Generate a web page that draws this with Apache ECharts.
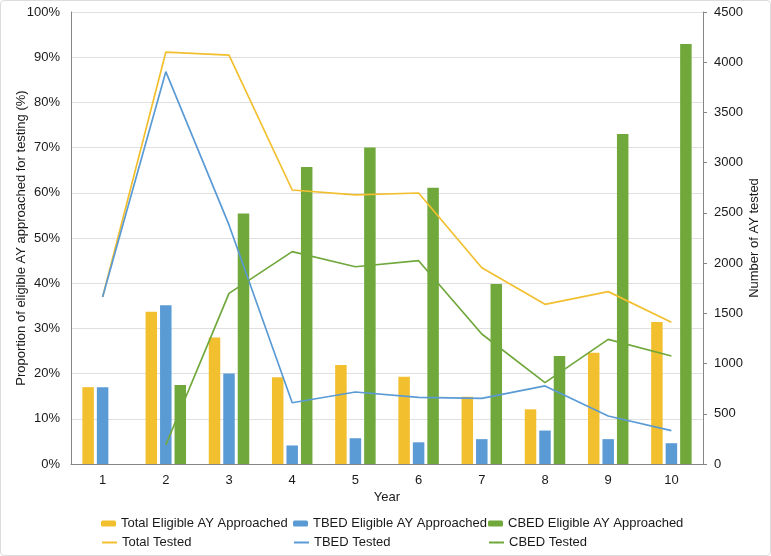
<!DOCTYPE html>
<html>
<head>
<meta charset="utf-8">
<script src="https://cdn.jsdelivr.net/npm/echarts@6/dist/echarts.min.js"></script>
<style>
  html, body { margin: 0; padding: 0; background: #fff; }
  #chart { width: 769px; height: 554px; border: 1px solid #dcdcdc; border-radius: 4px; }
</style>
</head>
<body>
<div id="chart"></div>
<script>
// years on the x axis
const years = ["1", "2", "3", "4", "5", "6", "7", "8", "9", "10"];

// bars: proportion of eligible AY approached (%)
const total_approached = [17.0, 33.7, 28.0, 19.2, 21.9, 19.3, 14.9, 12.1, 24.6, 31.4];
const tbed_approached = [17.0, 35.1, 20.0, 4.1, 5.7, 4.8, 5.5, 7.4, 5.5, 4.6];
const cbed_approached = [null, 17.5, 55.4, 65.7, 70.0, 61.1, 39.8, 23.9, 73.0, 92.9];

// lines: number of AY tested
const total_tested = [1663, 4100, 4070, 2728, 2680, 2698, 1954, 1590, 1716, 1411];
const tbed_tested = [1663, 3906, 2380, 610, 717, 664, 654, 777, 478, 332];
const cbed_tested = [null, 189, 1699, 2114, 1964, 2024, 1294, 810, 1241, 1075];

const YELLOW = "#F2BF2F";
const BLUE = "#5B9BD5";
const GREEN = "#70A83C";
const FONT = "Liberation Sans, Arial, sans-serif";
const TXT = "#1a1a1a";

const chart = echarts.init(document.getElementById("chart"), null, { renderer: "canvas" });

function bar(name, data, color) {
    return {
        name, type: "bar", data, yAxisIndex: 0,
        barWidth: 11.5, barGap: "26%",
        itemStyle: { color },
    };
}

function line(name, data, color) {
    return {
        name, type: "line", data, yAxisIndex: 1,
        symbol: "none", lineStyle: { color, width: 1.7 }, itemStyle: { color },
    };
}

function legend(name, left, top, isLine) {
    return {
        data: [name], left, top,
        itemWidth: 15, itemHeight: isLine ? 2 : 6,
        textStyle: { fontFamily: FONT, fontSize: 13, color: TXT },
        selectedMode: false,
    };
}

chart.setOption({
    animation: false,
    textStyle: { fontFamily: FONT },
    grid: { left: 70, right: 67, top: 11, bottom: 91, containLabel: false, outerBoundsMode: "none" },
    legend: [
        legend("Total Eligible AY Approached", 95, 511, false),
        legend("TBED Eligible AY Approached", 287, 511, false),
        legend("CBED Eligible AY Approached", 482, 511, false),
        legend("Total Tested", 95, 530, true),
        legend("TBED Tested", 287, 530, true),
        legend("CBED Tested", 482, 530, true),
    ],
    xAxis: {
        type: "category", data: years,
        name: "Year", nameLocation: "middle", nameGap: 27, nameMoveOverlap: false,
        nameTextStyle: { fontSize: 13, color: TXT },
        axisLine: { lineStyle: { color: "#868686" } },
        axisTick: { show: false },
        axisLabel: { fontSize: 13, color: TXT, margin: 10 },
    },
    yAxis: [
        {
            type: "value", min: 0, max: 100, interval: 10,
            name: "Proportion of eligible AY approached for testing (%)",
            nameLocation: "middle", nameRotate: 90, nameGap: 43, nameMoveOverlap: false,
            nameTextStyle: { fontSize: 13, color: TXT },
            axisLine: { show: true, lineStyle: { color: "#868686" } },
            axisTick: { show: false },
            axisLabel: { fontSize: 13, color: TXT, formatter: "{value}%", margin: 11 },
            splitLine: { lineStyle: { color: "#e0e0e0" } },
        },
        {
            type: "value", min: 0, max: 4500, interval: 500,
            name: "Number of AY tested",
            nameLocation: "middle", nameRotate: 90, nameGap: 45, nameMoveOverlap: false,
            nameTextStyle: { fontSize: 13, color: TXT },
            axisLine: { show: true, lineStyle: { color: "#868686" } },
            axisTick: { show: true, inside: false, length: 4, lineStyle: { color: "#868686" } },
            axisLabel: { fontSize: 13, color: TXT, margin: 11, formatter: (v) => String(v) },
            splitLine: { show: false },
        },
    ],
    series: [
        bar("Total Eligible AY Approached", total_approached, YELLOW),
        bar("TBED Eligible AY Approached", tbed_approached, BLUE),
        bar("CBED Eligible AY Approached", cbed_approached, GREEN),
        line("Total Tested", total_tested, YELLOW),
        line("TBED Tested", tbed_tested, BLUE),
        line("CBED Tested", cbed_tested, GREEN),
    ],
});
</script>
</body>
</html>
